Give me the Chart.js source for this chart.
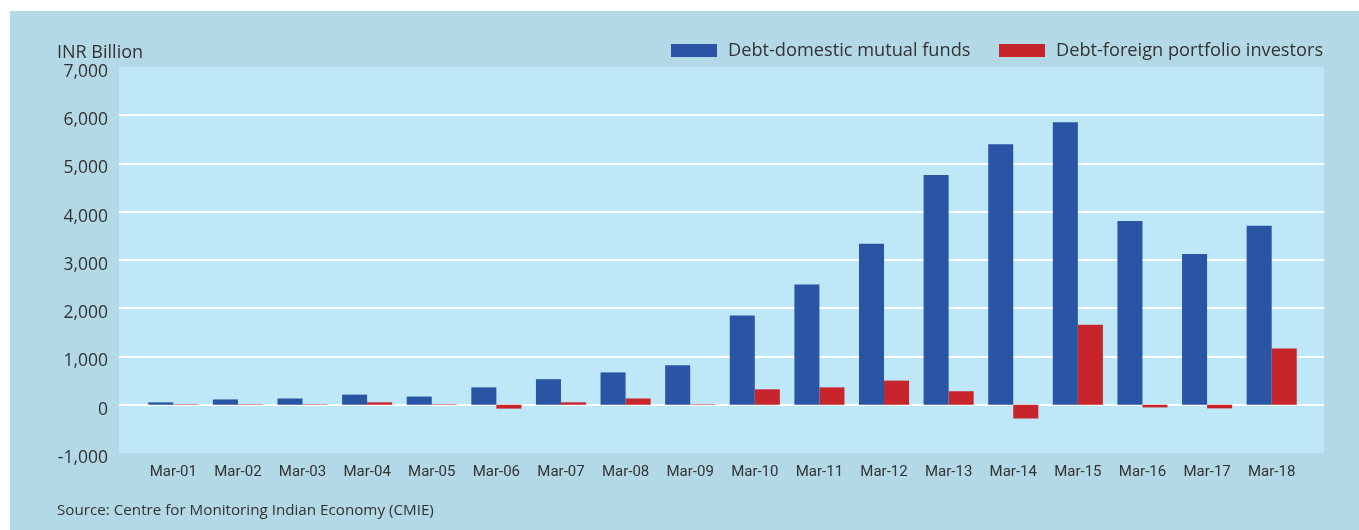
<!DOCTYPE html>
<html>
<head>
<meta charset="utf-8">
<script src="https://cdn.jsdelivr.net/npm/chart.js@4/dist/chart.umd.min.js"></script>
<style>
  body { margin: 0; background: #fff; width: 1359px; height: 530px; overflow: hidden; font-family: "Open Sans", sans-serif; color: #333; }
  #panel { position: absolute; left: 10px; top: 11px; right: 0; bottom: 0; background: #b3d8e6; }
  #wrap { position: absolute; left: 0; top: 0; width: 1359px; height: 530px; }
  .unit { position: absolute; left: 57px; top: 39px; font-size: 18px; }
  .src { position: absolute; left: 57px; top: 499px; font-size: 15.2px; }
  .legend { position: absolute; top: 37px; font-size: 18.2px; white-space: nowrap; }
  .legend span.box { display: inline-block; width: 46px; height: 13px; vertical-align: -1px; margin-right: 11px; }
</style>
</head>
<body>
<div id="panel"></div>
<div id="wrap"><canvas id="mainChart" width="1359" height="530"></canvas></div>
<div class="unit">INR Billion</div>
<div class="legend" style="left:671px"><span class="box" style="background:#2a55a5"></span>Debt-domestic mutual funds</div>
<div class="legend" style="left:999px"><span class="box" style="background:#c8242c"></span>Debt-foreign portfolio investors</div>
<div class="src">Source: Centre for Monitoring Indian Economy (CMIE)</div>
<script>
const years = ["Mar-01", "Mar-02", "Mar-03", "Mar-04", "Mar-05", "Mar-06", "Mar-07", "Mar-08", "Mar-09",
    "Mar-10", "Mar-11", "Mar-12", "Mar-13", "Mar-14", "Mar-15", "Mar-16", "Mar-17", "Mar-18"];
const domesticMF = [50, 110, 130, 210, 170, 360, 530, 670, 820, 1850, 2490, 3335, 4760, 5400, 5855, 3810, 3125, 3710];
const foreignPI = [10, 10, 10, 50, 10, -80, 50, 130, 10, 320, 360, 500, 280, -285, 1660, -55, -75, 1165];
const yTicks = [-1000, 0, 1000, 2000, 3000, 4000, 5000, 6000, 7000];

const plotBg = {
    id: 'plotBg',
    beforeDatasetsDraw(chart) {
        const ctx = chart.ctx;
        const a = chart.chartArea;
        const y = chart.scales.y;
        ctx.save();
        ctx.fillStyle = '#bee7f7';
        ctx.fillRect(a.left - 22, a.top, a.right - a.left + 42, a.bottom - a.top);
        ctx.strokeStyle = '#ffffff';
        ctx.lineWidth = 2;
        yTicks.forEach(v => {
            if (v <= -1000 || v >= 7000) return;
            const py = Math.round(y.getPixelForValue(v));
            ctx.beginPath();
            ctx.moveTo(a.left - 22, py);
            ctx.lineTo(a.right + 20, py);
            ctx.stroke();
        });
        ctx.restore();
    }
};

new Chart(document.getElementById("mainChart"), {
    type: 'bar',
    data: {
        labels: years,
        datasets: [{
            label: 'Debt-domestic mutual funds',
            data: domesticMF,
            backgroundColor: '#2a55a5'
        }, {
            label: 'Debt-foreign portfolio investors',
            data: foreignPI,
            backgroundColor: '#c8242c'
        }]
    },
    options: {
        responsive: false,
        animation: false,
        layout: { padding: { top: 67, right: 55, left: 0, bottom: 0 } },
        datasets: { bar: { categoryPercentage: 0.775, barPercentage: 1.0 } },
        plugins: {
            legend: { display: false },
            tooltip: { enabled: false }
        },
        scales: {
            x: {
                grid: { display: false, drawTicks: false },
                border: { display: false },
                ticks: { color: '#333', padding: 10, maxRotation: 0, autoSkip: false,
                    font: { family: "Roboto, sans-serif", size: 15 } },
                afterFit(scale) { scale.height = 77; }
            },
            y: {
                min: -1000,
                max: 7000,
                afterBuildTicks(scale) { scale.ticks = yTicks.map(v => ({ value: v })); },
                grid: { display: false, drawTicks: false },
                border: { display: false },
                ticks: { color: '#333', padding: 33, labelOffset: 5,
                    font: { family: "'Open Sans', sans-serif", size: 17.5 },
                    callback: v => v.toLocaleString('en-US') },
                afterFit(scale) { scale.width = 141; }
            }
        }
    },
    plugins: [plotBg]
});
</script>
</body>
</html>
